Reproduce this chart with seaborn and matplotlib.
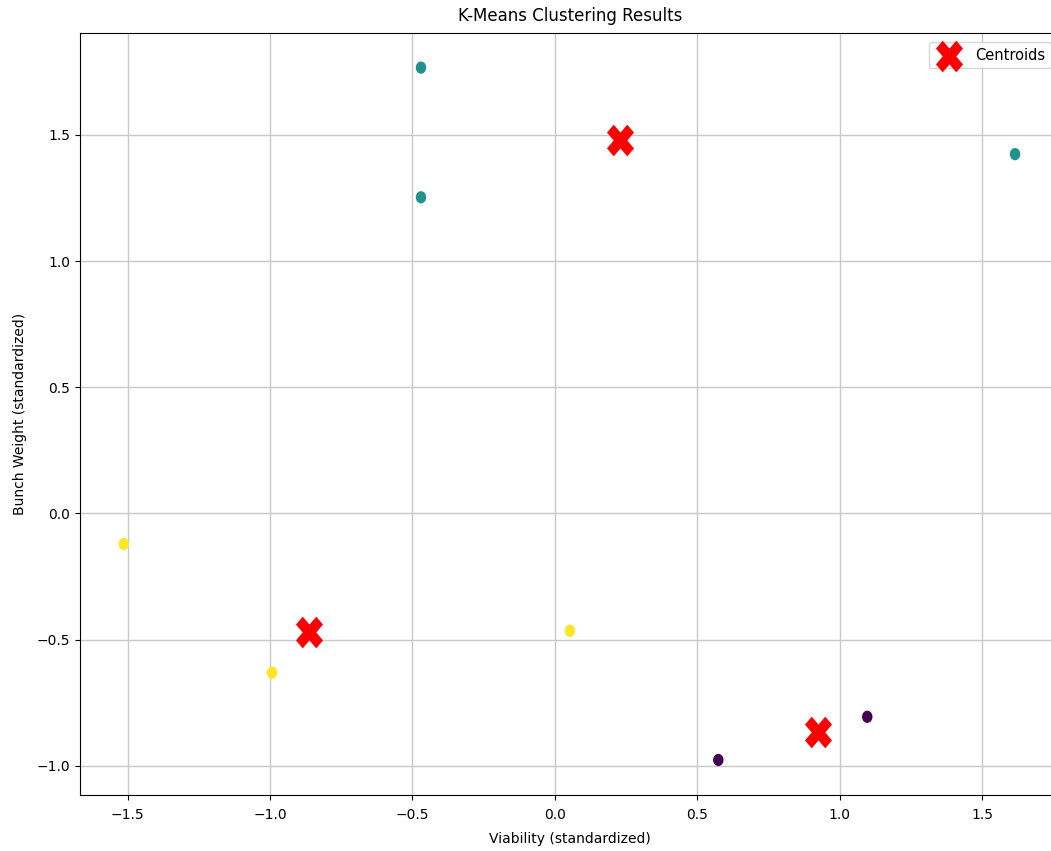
import matplotlib
matplotlib.use("Agg")
import matplotlib.pyplot as plt
from matplotlib.markers import MarkerStyle
from matplotlib.transforms import Affine2D
import seaborn as sns
import pandas as pd

# Standardized features per sample and their assigned cluster
viability = [-0.470, -0.470, 1.616, -1.514, -0.993, 0.053, 0.574, 1.097]
bunch_weight = [1.767, 1.253, 1.424, -0.121, -0.631, -0.465, -0.977, -0.806]
cluster = [1, 1, 1, 2, 2, 2, 0, 0]

# Cluster centroids
centroid_x = [0.228, -0.863, 0.925]
centroid_y = [1.480, -0.471, -0.865]

points = pd.DataFrame({"Viability": viability, "BunchWeight": bunch_weight, "Cluster": cluster})
centers = pd.DataFrame({"Viability": centroid_x, "BunchWeight": centroid_y})


def tall_marker(name, stretch=1.17):
    style = MarkerStyle(name)
    path = style.get_path().transformed(style.get_transform())
    return path.transformed(Affine2D().scale(1.0, stretch))


dot = tall_marker("o")
cross = tall_marker("X")

fig = plt.figure(figsize=(10.51, 8.51), dpi=100)
ax = fig.add_axes([0.0761, 0.0658, 0.9325, 0.8954])

sns.scatterplot(data=points, x="Viability", y="BunchWeight", hue="Cluster",
                palette="viridis", hue_norm=(0, 2), s=78, linewidth=0,
                marker=dot, legend=False, ax=ax, zorder=3)
sns.scatterplot(data=centers, x="Viability", y="BunchWeight", color="red",
                marker=cross, s=520, linewidth=0, label="Centroids", ax=ax, zorder=4)

ax.set_xlim(-1.6675, 1.774)
ax.set_ylim(-1.116, 1.904)
ax.set_title("K-Means Clustering Results", fontsize=12, pad=9)
ax.set_xlabel("Viability (standardized)", labelpad=7)
ax.set_ylabel("Bunch Weight (standardized)", labelpad=7)
ax.tick_params(axis="x", pad=6)
ax.grid(True, color="#c8c8c8", linewidth=1.0)
ax.set_axisbelow(True)
ax.legend(loc="upper right", borderaxespad=0.6, fontsize=10.5)

fig.savefig("out.png", dpi=100)
